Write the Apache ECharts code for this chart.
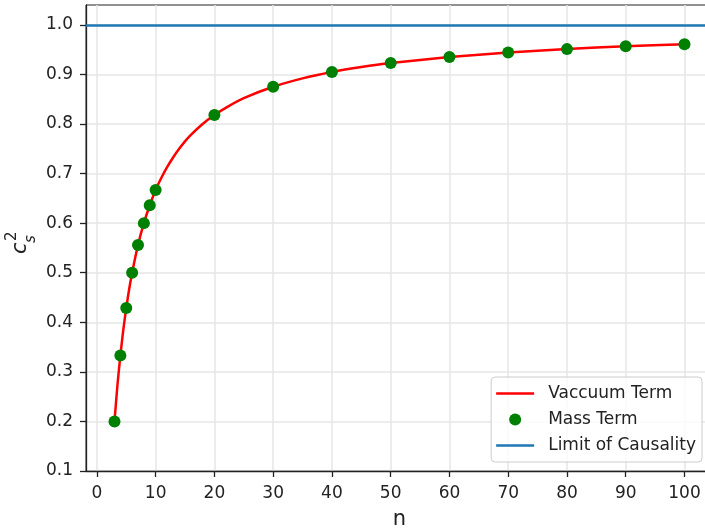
<!DOCTYPE html>
<html>
<head>
<meta charset="utf-8">
<script src="https://cdn.jsdelivr.net/npm/echarts@6/dist/echarts.min.js"></script>
<style>
  html, body { margin: 0; padding: 0; background: #fff; }
  #main { width: 705px; height: 529px; }
</style>
</head>
<body>
<div id="main"></div>
<script>
// vacuum term curve
var vacN = [3, 3.5, 4, 4.5, 5, 5.5, 6, 7, 8, 9, 10, 11, 12, 13, 14, 15, 16, 18, 20, 22, 25, 30, 35, 40, 45, 50, 60, 70, 80, 90, 100];
var vacCs = [0.200, 0.273, 0.333, 0.385, 0.429, 0.467, 0.500, 0.556, 0.600, 0.636, 0.667, 0.692, 0.714, 0.733, 0.750, 0.765, 0.778, 0.800, 0.818, 0.833, 0.852, 0.875, 0.892, 0.905, 0.915, 0.923, 0.935, 0.944, 0.951, 0.957, 0.961];
// mass term points
var massN = [3, 4, 5, 6, 7, 8, 9, 10, 20, 30, 40, 50, 60, 70, 80, 90, 100];
var massCs = [0.200, 0.333, 0.429, 0.500, 0.556, 0.600, 0.636, 0.667, 0.818, 0.875, 0.905, 0.923, 0.935, 0.944, 0.951, 0.957, 0.961];
var causalLimit = 1.0;
// ticks
var xTicks = [0, 10, 20, 30, 40, 50, 60, 70, 80, 90, 100];
var yTicks = [0.1, 0.2, 0.3, 0.4, 0.5, 0.6, 0.7, 0.8, 0.9, 1.0];

var myChart = echarts.init(document.getElementById("main"));

var vacData = vacN.map(function(n, i) { return [n, vacCs[i]]; });
var massData = massN.map(function(n, i) { return [n, massCs[i]]; });

var font = "DejaVu Sans";
var gridColor = "#e6e6e6";
var lineIcon = "path://M0,0h38v2.5h-38z";

var option = {
  animation: false,
  textStyle: { fontFamily: font },
  grid: {
    left: 86,
    top: 5,
    width: 627,
    height: 466,
    outerBoundsMode: "none",
    containLabel: false,
    show: true,
    borderColor: "#222",
    borderWidth: 1,
    backgroundColor: "transparent"
  },
  legend: {
    orient: "vertical",
    right: 3,
    top: 377,
    padding: [8, 6, 8, 5],
    itemGap: 9,
    itemWidth: 38,
    itemHeight: 12,
    backgroundColor: "rgba(255,255,255,0.8)",
    borderColor: "#cccccc",
    borderWidth: 1,
    borderRadius: 4,
    textStyle: { fontFamily: font, fontSize: 17, color: "#222", padding: [0, 0, 0, 9] },
    data: [
      { name: "Vaccuum Term", icon: lineIcon },
      { name: "Mass Term", icon: "circle" },
      { name: "Limit of Causality", icon: lineIcon }
    ]
  },
  xAxis: {
    type: "value",
    min: -1.85,
    max: 104.85,
    name: "n",
    nameLocation: "middle",
    nameGap: 38,
    nameTextStyle: { fontFamily: font, fontSize: 21, color: "#222" },
    axisLine: { show: true, onZero: false, lineStyle: { color: "#222", width: 1.3 } },
    axisTick: { show: true, length: 6, customValues: xTicks, lineStyle: { color: "#222", width: 1.3 } },
    axisLabel: {
      customValues: xTicks,
      margin: 14,
      fontSize: 17,
      color: "#222",
      fontFamily: font
    },
    splitLine: { show: true, lineStyle: { color: gridColor, width: 1.5 } }
  },
  yAxis: {
    type: "value",
    min: 0.1,
    max: 1.04,
    axisLine: { show: true, onZero: false, lineStyle: { color: "#222", width: 1.3 } },
    axisTick: { show: true, length: 6, customValues: yTicks, lineStyle: { color: "#222", width: 1.3 } },
    axisLabel: {
      customValues: yTicks,
      margin: 13,
      fontSize: 17,
      color: "#222",
      fontFamily: font,
      formatter: function(v) { return v.toFixed(1); }
    },
    splitLine: { show: true, lineStyle: { color: gridColor, width: 1.5 } }
  },
  graphic: [
    {
      type: "group",
      x: 27,
      y: 254,
      rotation: Math.PI / 2,
      children: [
        { type: "text", x: 0, y: -6, style: { text: "c", font: "italic 21px DejaVu Sans", fill: "#222", textAlign: "left", textVerticalAlign: "middle" } },
        { type: "text", x: 13, y: -15, style: { text: "2", font: "15px DejaVu Sans", fill: "#222", textAlign: "left", textVerticalAlign: "middle" } },
        { type: "text", x: 11, y: 4, style: { text: "s", font: "italic 15px DejaVu Sans", fill: "#222", textAlign: "left", textVerticalAlign: "middle" } }
      ]
    }
  ],
  series: [
    {
      name: "Vaccuum Term",
      type: "line",
      data: vacData,
      symbol: "none",
      smooth: 0.25,
      color: "#ff0000",
      lineStyle: { color: "#ff0000", width: 2.5 },
      z: 2
    },
    {
      name: "Mass Term",
      type: "scatter",
      data: massData,
      symbol: "circle",
      symbolSize: 12,
      itemStyle: { color: "#008000", opacity: 1 },
      z: 3
    },
    {
      name: "Limit of Causality",
      type: "line",
      data: [],
      symbol: "none",
      color: "#1f77b4",
      lineStyle: { color: "#1f77b4", width: 2.5 },
      markLine: {
        silent: true,
        symbol: ["none", "none"],
        label: { show: false },
        lineStyle: { color: "#1f77b4", width: 2.5, type: "solid" },
        data: [{ yAxis: causalLimit }]
      },
      z: 2
    }
  ]
};

myChart.setOption(option);
</script>
</body>
</html>
